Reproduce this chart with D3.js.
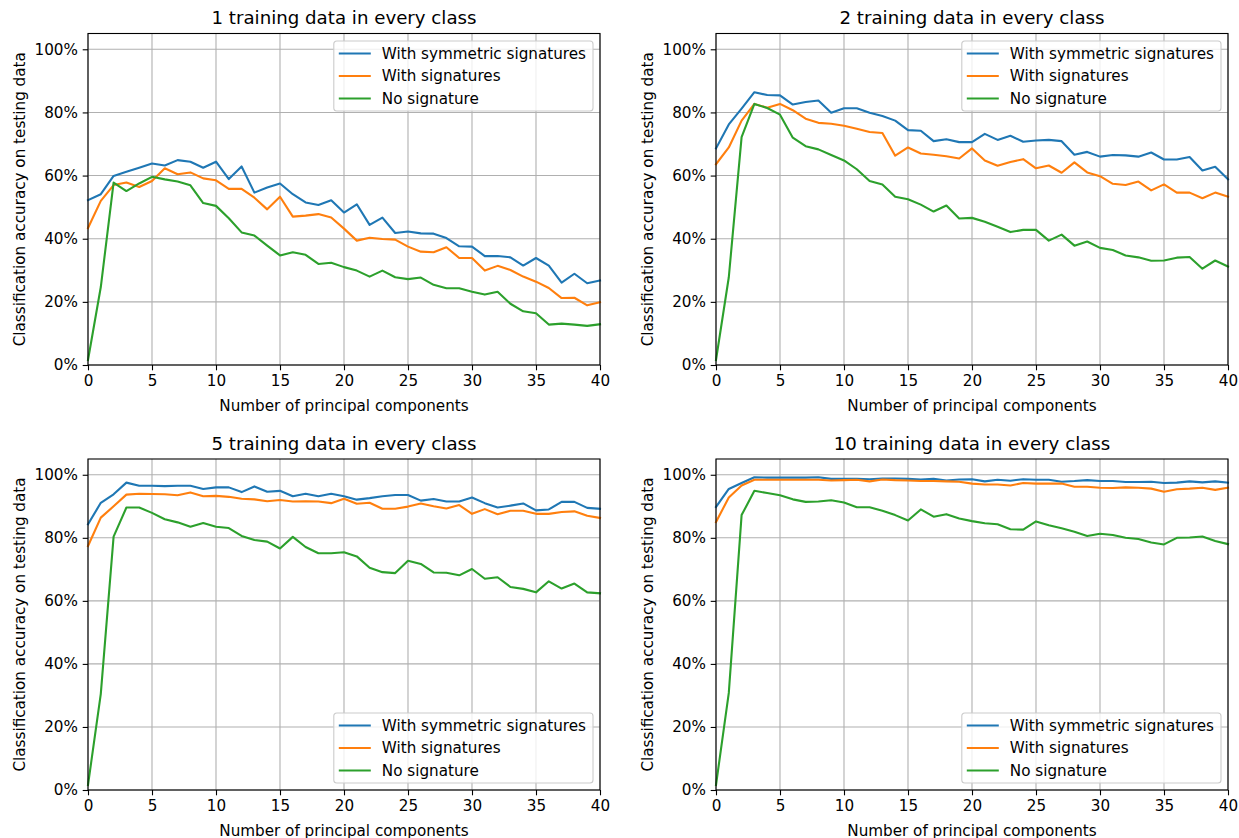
<!DOCTYPE html>
<html>
<head>
<meta charset="utf-8">
<script src="https://cdn.jsdelivr.net/npm/d3@7"></script>
<style>
  body { margin: 0; background: #fff; }
  svg { display: block; font-family: "DejaVu Sans", sans-serif; }
  .tick text { font-size: 15.2px; fill: #000; }
  .title { font-size: 18.2px; }
  .label { font-size: 15.2px; }
  .legend text { font-size: 15.2px; }
</style>
</head>
<body>
<div id="chart"></div>
<script>
// x values: number of principal components
let components = [0, 1, 2, 3, 4, 5, 6, 7, 8, 9, 10, 11, 12, 13, 14, 15, 16, 17, 18, 19, 20,
    21, 22, 23, 24, 25, 26, 27, 28, 29, 30, 31, 32, 33, 34, 35, 36, 37, 38, 39, 40];

let xTicks = [0, 5, 10, 15, 20, 25, 30, 35, 40];
let yTicks = [0, 20, 40, 60, 80, 100];

let seriesNames = ['With symmetric signatures', 'With signatures', 'No signature'];
let panelTitles = ['1 training data in every class', '2 training data in every class',
    '5 training data in every class', '10 training data in every class'];

// accuracy in percent, one value per component count
let sym1 = [52.2, 54.1, 59.9, 61.2, 62.5, 63.8, 63.2, 64.9, 64.4, 62.5, 64.4, 58.9, 62.9, 54.6, 56.2, 57.5, 54.1, 51.5, 50.7, 52.2, 48.3,
    50.9, 44.4, 46.7, 41.8, 42.3, 41.7, 41.6, 40.2, 37.6, 37.5, 34.5, 34.5, 34.1, 31.5, 33.9, 31.5, 26.1, 28.9, 25.9, 26.8];
let sig1 = [43.4, 52.0, 57.0, 57.8, 56.4, 58.3, 62.3, 60.4, 61.0, 59.1, 58.5, 55.8, 55.8, 53.0, 49.3, 53.3, 47.0, 47.3, 47.8, 46.7, 43.2,
    39.4, 40.3, 39.9, 39.7, 37.5, 35.9, 35.7, 37.3, 33.9, 33.9, 29.9, 31.4, 30.1, 28.0, 26.4, 24.4, 21.2, 21.3, 18.9, 19.9];
let none1 = [1.6, 24.7, 57.8, 55.1, 57.5, 59.6, 58.8, 58.1, 56.9, 51.3, 50.4, 46.5, 42.0, 41.0, 37.8, 34.7, 35.7, 34.9, 32.0, 32.4, 31.0,
    29.9, 28.0, 29.9, 27.8, 27.2, 27.7, 25.4, 24.3, 24.3, 23.2, 22.3, 23.2, 19.4, 17.0, 16.4, 12.8, 13.1, 12.8, 12.4, 12.9];

let sym2 = [68.6, 76.2, 81.2, 86.4, 85.5, 85.4, 82.5, 83.3, 83.8, 79.9, 81.3, 81.3, 79.9, 78.9, 77.4, 74.4, 74.2, 70.9, 71.5, 70.6, 70.6,
    73.2, 71.3, 72.6, 70.7, 71.1, 71.3, 70.9, 66.6, 67.5, 66.0, 66.5, 66.4, 66.0, 67.3, 65.1, 65.1, 65.9, 61.6, 62.8, 58.8];
let sig2 = [63.6, 68.9, 77.4, 82.7, 81.5, 82.7, 80.7, 78.0, 76.7, 76.4, 75.8, 74.8, 73.8, 73.5, 66.3, 68.9, 67.0, 66.6, 66.1, 65.4, 68.6,
    64.8, 63.1, 64.3, 65.2, 62.3, 63.2, 60.9, 64.2, 61.0, 59.8, 57.4, 57.0, 58.1, 55.3, 57.2, 54.6, 54.6, 52.8, 54.6, 53.3];
let none2 = [1.6, 27.8, 72.2, 82.7, 81.4, 79.3, 72.0, 69.3, 68.3, 66.5, 64.8, 62.0, 58.3, 57.2, 53.3, 52.5, 50.8, 48.6, 50.5, 46.4, 46.6,
    45.4, 43.8, 42.1, 42.8, 42.8, 39.4, 41.3, 37.8, 39.1, 37.1, 36.4, 34.7, 34.1, 33.0, 33.1, 34.0, 34.2, 30.5, 33.1, 31.2];

let sym3 = [84.3, 91.1, 93.8, 97.5, 96.5, 96.5, 96.4, 96.5, 96.5, 95.5, 96.0, 96.0, 94.5, 96.3, 94.6, 94.9, 93.2, 94.0, 93.2, 94.0, 93.2,
    92.1, 92.6, 93.2, 93.6, 93.6, 91.8, 92.3, 91.5, 91.5, 92.8, 91.0, 89.6, 90.2, 90.9, 88.7, 89.0, 91.4, 91.4, 89.5, 89.2];
let sig3 = [77.4, 86.4, 90.0, 93.7, 94.0, 93.9, 93.8, 93.5, 94.4, 93.2, 93.3, 93.0, 92.4, 92.2, 91.6, 92.0, 91.5, 91.6, 91.5, 91.0, 92.4,
    90.8, 91.1, 89.2, 89.2, 89.9, 90.9, 90.0, 89.3, 90.4, 87.6, 89.1, 87.5, 88.6, 88.6, 87.6, 87.6, 88.2, 88.4, 87.0, 86.3];
let none3 = [1.6, 30.5, 80.4, 89.6, 89.6, 87.9, 85.9, 84.9, 83.5, 84.7, 83.5, 83.1, 80.6, 79.3, 78.8, 76.6, 80.3, 77.1, 75.1, 75.1, 75.4,
    74.1, 70.5, 69.1, 68.8, 72.7, 71.7, 69.0, 68.9, 68.1, 70.1, 67.0, 67.5, 64.4, 63.8, 62.7, 66.2, 63.9, 65.5, 62.7, 62.4];

let sym4 = [89.8, 95.5, 97.4, 99.2, 99.1, 99.1, 99.1, 99.1, 99.2, 98.7, 98.7, 98.7, 98.6, 98.8, 98.8, 98.7, 98.5, 98.7, 98.2, 98.5, 98.6,
    97.9, 98.4, 98.1, 98.6, 98.4, 98.4, 97.8, 98.0, 98.3, 98.0, 98.0, 97.7, 97.7, 97.8, 97.4, 97.5, 97.9, 97.6, 97.9, 97.5];
let sig4 = [85.0, 92.8, 96.6, 98.4, 98.4, 98.4, 98.4, 98.4, 98.4, 98.2, 98.3, 98.4, 97.9, 98.5, 98.3, 98.2, 98.0, 98.0, 97.9, 97.8, 97.2,
    96.9, 96.9, 96.6, 97.4, 97.2, 97.2, 97.2, 96.2, 96.2, 95.9, 95.8, 96.0, 95.9, 95.6, 94.6, 95.4, 95.6, 95.9, 95.2, 95.9];
let none4 = [1.6, 30.8, 87.2, 94.9, 94.2, 93.5, 92.2, 91.4, 91.5, 91.9, 91.2, 89.7, 89.7, 88.6, 87.2, 85.5, 89.0, 86.7, 87.5, 86.1, 85.3,
    84.6, 84.3, 82.7, 82.6, 85.2, 84.0, 83.0, 81.9, 80.6, 81.3, 80.9, 80.0, 79.6, 78.5, 77.9, 80.0, 80.1, 80.4, 79.0, 78.0];

let colors = ['#1f77b4', '#ff7f0e', '#2ca02c'];

let width = 1239, height = 838;

// axes boxes, in pixels
let panels = [
    {left: 88, right: 600, top: 33.5, bottom: 365, legend: 'top', series: [sym1, sig1, none1]},
    {left: 716, right: 1228, top: 33.5, bottom: 365, legend: 'top', series: [sym2, sig2, none2]},
    {left: 88, right: 600, top: 459, bottom: 790, legend: 'bottom', series: [sym3, sig3, none3]},
    {left: 716, right: 1228, top: 459, bottom: 790, legend: 'bottom', series: [sym4, sig4, none4]}
];

let svg = d3.select('#chart').append('svg')
    .attr('width', width)
    .attr('height', height);

svg.append('rect').attr('width', width).attr('height', height).attr('fill', '#fff');

panels.forEach(function(p, k) {
    let x = d3.scaleLinear().domain([0, 40]).range([p.left, p.right]);
    let y = d3.scaleLinear().domain([0, 105]).range([p.bottom, p.top]);

    let g = svg.append('g');

    // grid
    g.append('g').selectAll('line.vgrid').data(xTicks).enter().append('line')
        .attr('x1', d => x(d)).attr('x2', d => x(d))
        .attr('y1', p.top).attr('y2', p.bottom)
        .attr('stroke', '#b0b0b0').attr('stroke-width', 1.1);
    g.append('g').selectAll('line.hgrid').data(yTicks).enter().append('line')
        .attr('x1', p.left).attr('x2', p.right)
        .attr('y1', d => y(d)).attr('y2', d => y(d))
        .attr('stroke', '#b0b0b0').attr('stroke-width', 1.1);

    // lines
    let line = d3.line()
        .x((d, i) => x(components[i]))
        .y(d => y(d));
    p.series.forEach(function(s, j) {
        g.append('path')
            .datum(s)
            .attr('d', line)
            .attr('fill', 'none')
            .attr('stroke', colors[j])
            .attr('stroke-width', 2.1)
            .attr('stroke-linejoin', 'round')
            .attr('stroke-linecap', 'square');
    });

    // axes
    let xAxis = g.append('g')
        .attr('transform', 'translate(0,' + p.bottom + ')')
        .call(d3.axisBottom(x).tickValues(xTicks).tickSize(5.3).tickPadding(4.8).tickSizeOuter(0));
    let yAxis = g.append('g')
        .attr('transform', 'translate(' + p.left + ',0)')
        .call(d3.axisLeft(y).tickValues(yTicks).tickFormat(d => d + '%').tickSize(5.3).tickPadding(4.8).tickSizeOuter(0));
    [xAxis, yAxis].forEach(function(a) {
        a.select('.domain').remove();
        a.selectAll('.tick line').attr('stroke', '#000').attr('stroke-width', 1.1);
        a.attr('font-family', null).attr('font-size', null);
    });

    // spines
    g.append('rect')
        .attr('x', p.left).attr('y', p.top)
        .attr('width', p.right - p.left).attr('height', p.bottom - p.top)
        .attr('fill', 'none').attr('stroke', '#000').attr('stroke-width', 1.1);

    // title and labels
    let cx = (p.left + p.right) / 2;
    g.append('text').attr('class', 'title')
        .attr('x', cx).attr('y', p.top - 9.5)
        .attr('text-anchor', 'middle')
        .text(panelTitles[k]);
    g.append('text').attr('class', 'label')
        .attr('x', cx).attr('y', p.bottom + 45.5)
        .attr('text-anchor', 'middle')
        .text('Number of principal components');
    g.append('text').attr('class', 'label')
        .attr('transform', 'translate(' + (p.left - 63) + ',' + ((p.top + p.bottom) / 2) + ') rotate(-90)')
        .attr('text-anchor', 'middle')
        .text('Classification accuracy on testing data');

    // legend
    let leg = g.append('g').attr('class', 'legend');
    let box = leg.append('rect');
    let rowH = 22.5;
    let maxW = 0;
    seriesNames.forEach(function(name, j) {
        let ry = 12.5 + j * rowH;
        leg.append('line')
            .attr('x1', 5).attr('x2', 37)
            .attr('y1', ry).attr('y2', ry)
            .attr('stroke', colors[j]).attr('stroke-width', 2.1);
        let t = leg.append('text')
            .attr('x', 48).attr('y', ry + 5.3)
            .text(name);
        maxW = Math.max(maxW, t.node().getComputedTextLength());
    });
    let bw = 48 + maxW + 7, bh = 70;
    box.attr('width', bw).attr('height', bh)
        .attr('rx', 3).attr('ry', 3)
        .attr('fill', '#fff').attr('fill-opacity', 0.8)
        .attr('stroke', '#cccccc').attr('stroke-width', 1.1);
    let lx = p.right - 7 - bw;
    let ly = p.legend === 'top' ? p.top + 7.5 : p.bottom - 7 - bh;
    leg.attr('transform', 'translate(' + lx + ',' + ly + ')');
});
</script>
</body>
</html>
